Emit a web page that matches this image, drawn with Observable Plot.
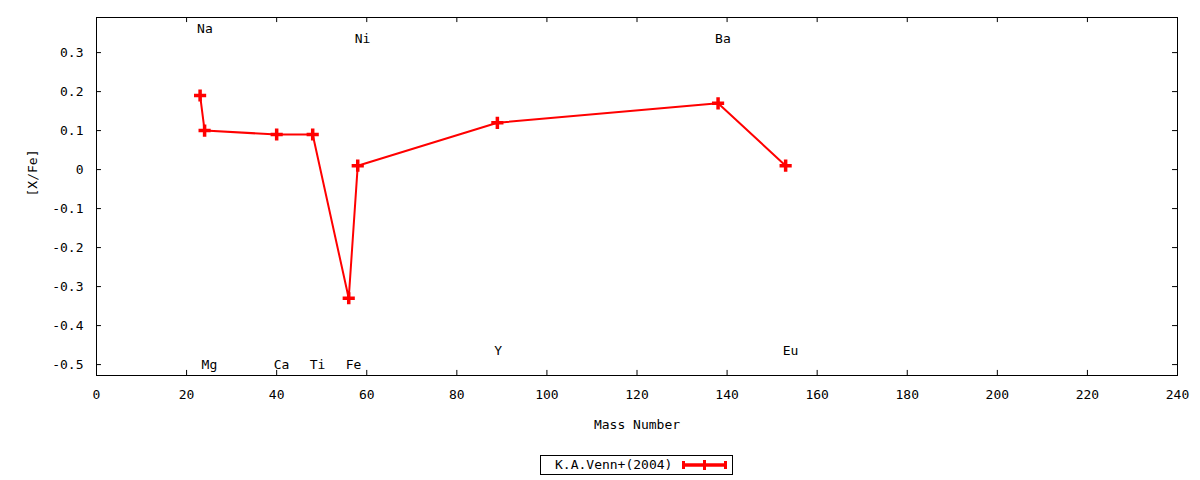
<!DOCTYPE html>
<html>
<head>
<meta charset="utf-8">
<script src="https://cdn.jsdelivr.net/npm/d3@7"></script>
<script src="https://cdn.jsdelivr.net/npm/@observablehq/plot@0.6"></script>
<style>
  body { margin: 0; background: #fff; }
  #wrap { position: relative; width: 1200px; height: 480px; }
  #legend { position: absolute; left: 540px; top: 455px; }
</style>
</head>
<body>
<div id="wrap">
  <div id="chart"></div>
  <div id="legend"></div>
</div>
<script>
// element, mass number, [X/Fe]
const elements = ["Na", "Mg", "Ca", "Ti", "Fe", "Ni", "Y", "Ba", "Eu"]
const massNumbers = [23, 24, 40, 48, 56, 58, 89, 138, 153]
const xFe = [0.19, 0.10, 0.09, 0.09, -0.33, 0.01, 0.12, 0.17, 0.01]
// where the element names sit
const labelY = [0.36, -0.5, -0.5, -0.5, -0.5, 0.335, -0.465, 0.335, -0.465]

const xTicks = d3.range(0, 241, 20)
const yTicks = [-0.5, -0.4, -0.3, -0.2, -0.1, 0, 0.1, 0.2, 0.3]
const seriesName = "K.A.Venn+(2004)"

const data = elements.map((el, i) => ({el, mass: massNumbers[i], v: xFe[i], ly: labelY[i]}))

const yMin = -0.528, yMax = 0.39
const font = "DejaVu Sans Mono"

let chart = Plot.plot({
  width: 1200,
  height: 480,
  marginLeft: 96,
  marginRight: 23,
  marginTop: 17,
  marginBottom: 105,
  style: {fontFamily: font, fontSize: "13px", color: "black", background: "white"},
  x: {domain: [0, 240]},
  y: {domain: [yMin, yMax]},
  marks: [
    Plot.axisX(xTicks, {tickSize: 0, tickPadding: 14, label: null, tickFormat: d => d}),
    Plot.axisY(yTicks, {tickSize: 0, tickPadding: 13, label: null, tickFormat: d => d}),
    // inward ticks, mirrored
    Plot.ruleX(xTicks, {x: d => d, y1: yMin, y2: yMin + 0.013, stroke: "black"}),
    Plot.ruleX(xTicks, {x: d => d, y1: yMax, y2: yMax - 0.013, stroke: "black"}),
    Plot.ruleY(yTicks, {y: d => d, x1: 0, x2: 1.1, stroke: "black"}),
    Plot.ruleY(yTicks, {y: d => d, x1: 240, x2: 238.9, stroke: "black"}),
    Plot.frame({stroke: "black"}),
    Plot.text([seriesName], {frameAnchor: "bottom", dy: 49, text: () => "Mass Number", lineAnchor: "middle"}),
    Plot.text(["[X/Fe]"], {frameAnchor: "left", dx: -64, rotate: -90, text: d => d, lineAnchor: "middle"}),
    Plot.text(data, {x: "mass", y: "ly", text: "el", textAnchor: "start", dx: -3, lineAnchor: "middle"}),
    Plot.line(data, {x: "mass", y: "v", stroke: "red", strokeWidth: 2}),
    Plot.dot(data, {x: "mass", y: "v", symbol: "plus", stroke: "red", strokeWidth: 3.5, r: 4})
  ]
})

d3.select('#chart').append(() => chart)

// legend box
const lg = d3.select('#legend').append('svg').attr('width', 194).attr('height', 22)
  .style('font-family', font).style('font-size', '13px')
lg.append('rect').attr('x', 0.5).attr('y', 0.5).attr('width', 192).attr('height', 19)
  .attr('fill', 'white').attr('stroke', 'black')
lg.append('text').attr('x', 15).attr('y', 9.5).attr('dy', '0.35em').text(seriesName)
lg.append('line').attr('x1', 143).attr('x2', 186).attr('y1', 10).attr('y2', 10)
  .attr('stroke', 'red').attr('stroke-width', 3.5)
lg.append('line').attr('x1', 143.5).attr('x2', 143.5).attr('y1', 6).attr('y2', 14)
  .attr('stroke', 'red').attr('stroke-width', 3)
lg.append('line').attr('x1', 185.5).attr('x2', 185.5).attr('y1', 6).attr('y2', 14)
  .attr('stroke', 'red').attr('stroke-width', 3)
lg.append('line').attr('x1', 164.5).attr('x2', 164.5).attr('y1', 5).attr('y2', 15)
  .attr('stroke', 'red').attr('stroke-width', 3)
</script>
</body>
</html>
